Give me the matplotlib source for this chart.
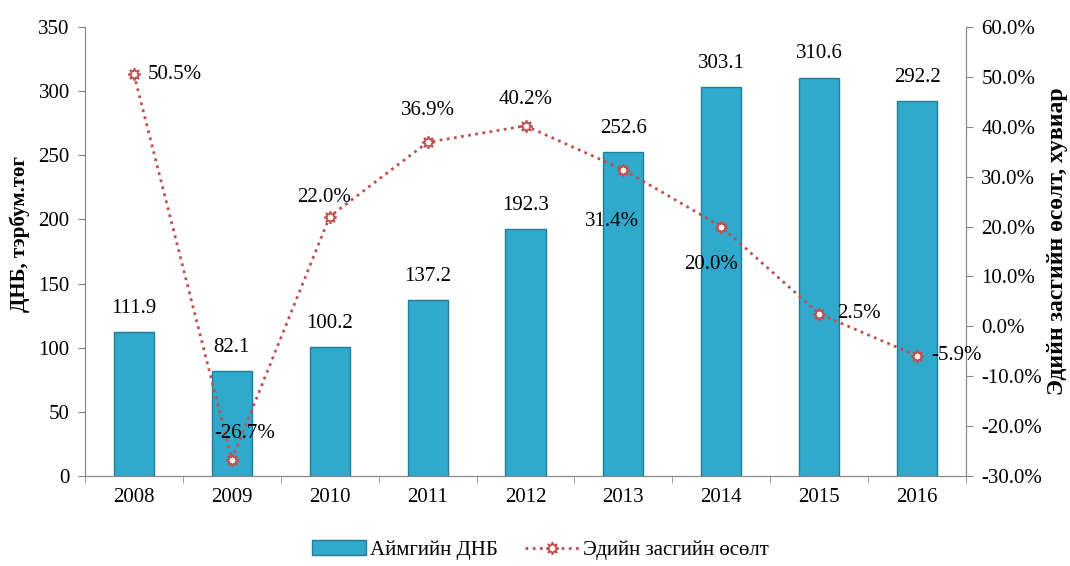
import matplotlib
matplotlib.use("Agg")
import matplotlib.pyplot as plt
from matplotlib.ticker import FuncFormatter, FixedLocator
import numpy as np

years = ["2008", "2009", "2010", "2011", "2012", "2013", "2014", "2015", "2016"]
gdp = [111.9, 82.1, 100.2, 137.2, 192.3, 252.6, 303.1, 310.6, 292.2]
growth = [50.5, -26.7, 22.0, 36.9, 40.2, 31.4, 20.0, 2.5, -5.9]

plt.rcParams['font.family'] = ['Liberation Serif', 'DejaVu Serif']
FS = 15
W, H = 1070, 566

fig = plt.figure(figsize=(W / 100, H / 100), dpi=100)
ax = fig.add_axes([85 / W, 1 - 476 / H, 881 / W, 449 / H])
ax2 = ax.twinx()

x = np.arange(len(years))
bars = ax.bar(x, gdp, width=0.41, color='#31A9CC', edgecolor='#1E7E9A', linewidth=1.0,
              label='Аймгийн ДНБ', zorder=2)
ax.set_ylim(0, 350)
ax.set_xlim(-0.5, len(years) - 0.5)
ax.set_yticks(np.arange(0, 351, 50))
ax.set_xticks(x)
ax.set_xticklabels(years)
ax.xaxis.set_minor_locator(FixedLocator(np.arange(-0.5, len(years), 1)))
ax.tick_params(axis='x', which='major', length=0, pad=9, labelsize=FS)
ax.tick_params(axis='x', which='minor', length=5, color='#888888', direction='out')
ax.tick_params(axis='y', length=5, color='#888888', labelsize=FS, pad=6)
for s in ['top']:
    ax.spines[s].set_visible(False)
    ax2.spines[s].set_visible(False)
for s in ['left', 'bottom', 'right']:
    ax.spines[s].set_color('#888888')
    ax2.spines[s].set_color('#888888')

fig.text(20 / W, 1 - 234 / H, 'ДНБ, тэрбум.төг', fontsize=15, fontweight='bold',
         rotation=90, ha='center', va='center')
fig.text(1058 / W, 1 - 241 / H, 'Эдийн засгийн өсөлт, хувиар', fontsize=17,
         fontweight='bold', rotation=90, ha='center', va='center')

for xi, v in zip(x, gdp):
    ax.annotate(f"{v:.1f}", (xi, v), xytext=(0, 17), textcoords='offset points',
                ha='center', va='center', fontsize=FS)

ax2.plot(x, growth, linestyle=(0, (1, 1.6)), color='#C0504D', linewidth=2.0,
         marker=(8, 1, 0), markersize=9, markerfacecolor='white',
         markeredgecolor='#C0504D', markeredgewidth=1.2, label='Эдийн засгийн өсөлт', zorder=3)
ax2.set_ylim(-30, 60)
ax2.set_yticks(np.arange(-30, 61, 10))
ax2.yaxis.set_major_formatter(FuncFormatter(lambda v, p: f"{v:.1f}%"))
ax2.tick_params(axis='y', length=5, color='#888888', labelsize=FS, pad=6)

offsets = [(10, 0, 'left'),
           (9, 19, 'center'),
           (-4, 14, 'center'),
           (0, 23, 'center'),
           (0, 19, 'center'),
           (-8, -37, 'center'),
           (-7, -27, 'center'),
           (13, 0, 'left'),
           (10, 0, 'left')]
for xi, v, (dx, dy, ha) in zip(x, growth, offsets):
    ax2.annotate(f"{v:.1f}%", (xi, v), xytext=(dx, dy), textcoords='offset points',
                 ha=ha, va='center', fontsize=FS, zorder=4)

h1, l1 = ax.get_legend_handles_labels()
h2, l2 = ax2.get_legend_handles_labels()
fig.legend(h1 + h2, l1 + l2, loc='center', bbox_to_anchor=(0.505, 0.028), ncol=2,
           frameon=False, fontsize=FS, handlelength=2.6, handletextpad=0.2,
           columnspacing=1.3)

fig.savefig('out.png', dpi=100)
